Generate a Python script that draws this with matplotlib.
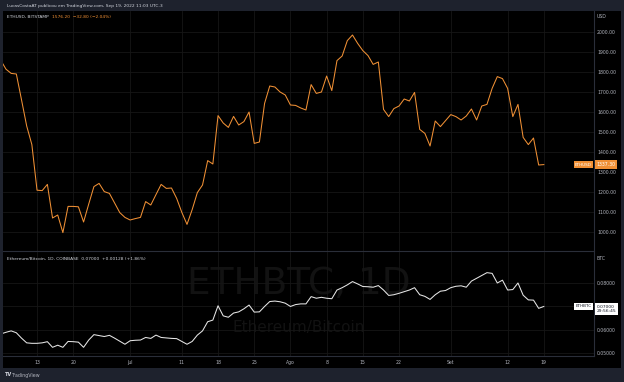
import matplotlib
matplotlib.use('Agg')
import matplotlib.pyplot as plt
import matplotlib.dates as mdates
import numpy as np
import pandas as pd

# daily closes, Jun 6 - Sep 19 2022
dates = pd.date_range('2022-06-06', '2022-09-19', freq='D')

eth_usd = [1858, 1814, 1793, 1790, 1661, 1530, 1437, 1209, 1207, 1238,
           1070, 1085, 997, 1128, 1128, 1126, 1050, 1140, 1227, 1243,
           1202, 1193, 1145, 1097, 1073,
           1060, 1067, 1073, 1152, 1135, 1187, 1238, 1218, 1220, 1168,
           1098, 1038, 1112, 1197, 1235, 1357, 1340, 1582, 1545, 1523,
           1578, 1535, 1552, 1600, 1443, 1450, 1643, 1730, 1725, 1700, 1685,
           1635, 1633, 1620, 1610, 1737, 1693, 1700, 1780, 1707, 1857,
           1880, 1957, 1985, 1943, 1907, 1882, 1838, 1850, 1613, 1577,
           1617, 1630, 1665, 1655, 1698, 1513, 1493, 1430, 1555, 1527, 1557,
           1587, 1577, 1560, 1580, 1615, 1560, 1630, 1638, 1718, 1777,
           1767, 1718, 1577, 1638, 1473, 1437, 1470, 1335, 1337]

eth_btc = [0.0583, 0.0590, 0.0596, 0.0588, 0.0565, 0.0545, 0.0543, 0.0543, 0.0545, 0.0550,
           0.0526, 0.0535, 0.0526, 0.0551, 0.0550, 0.0548, 0.0526, 0.0557, 0.0580, 0.0576,
           0.0572, 0.0577, 0.0565, 0.0552, 0.0539,
           0.0554, 0.0556, 0.0557, 0.0568, 0.0564, 0.0578, 0.0568, 0.0566, 0.0564, 0.0563,
           0.0551, 0.0539, 0.0551, 0.0578, 0.0596, 0.0635, 0.0642, 0.0703, 0.0660, 0.0654,
           0.0672, 0.0677, 0.0690, 0.0706, 0.0676, 0.0677, 0.0700, 0.0721, 0.0723, 0.0720, 0.0714,
           0.0700, 0.0708, 0.0711, 0.0711, 0.0742, 0.0735, 0.0739, 0.0735, 0.0733, 0.0770,
           0.0780, 0.0792, 0.0806, 0.0796, 0.0785, 0.0784, 0.0782, 0.0789, 0.0770, 0.0747,
           0.0750, 0.0756, 0.0763, 0.0770, 0.0780, 0.0750, 0.0743, 0.0730, 0.0750, 0.0765, 0.0768,
           0.0780, 0.0786, 0.0788, 0.0782, 0.0808, 0.0820, 0.0832, 0.0844, 0.0841, 0.0800,
           0.0812, 0.0770, 0.0772, 0.0800, 0.0748, 0.0728, 0.0727, 0.0692, 0.0700]

usd_ticks = [1000, 1100, 1200, 1300, 1400, 1500, 1600, 1700, 1800, 1900, 2000]
btc_ticks = [0.05, 0.06, 0.07, 0.08]
x_tick_dates = ['2022-06-13', '2022-06-20', '2022-07-01', '2022-07-11', '2022-07-18',
                '2022-07-25', '2022-08-01', '2022-08-08', '2022-08-15', '2022-08-22',
                '2022-09-01', '2022-09-12', '2022-09-19']
x_tick_labels = ['13', '20', 'Jul', '11', '18', '25', 'Ago', '8', '15', '22', 'Set', '12', '19']

W, H = 624, 382
FRAME = '#1e222d'
GRID = '#161616'
SEP = '#2a2e39'
TXT = '#b2b5be'
ORANGE = '#f09035'


def rect(x0, y0, x1, y1):
    return [x0 / W, 1 - y1 / H, (x1 - x0) / W, (y1 - y0) / H]


fig = plt.figure(figsize=(W / 100, H / 100), dpi=100, facecolor=FRAME)

# black chart panel behind everything
bg = fig.add_axes(rect(3, 11, 621, 368))
bg.set_facecolor('black')
bg.set_xticks([])
bg.set_yticks([])
for s in bg.spines.values():
    s.set_visible(False)

ax1 = fig.add_axes(rect(3, 11, 594, 251))
ax2 = fig.add_axes(rect(3, 252, 594, 356), sharex=ax1)

x0 = pd.Timestamp('2022-06-13')
xlim = (mdates.date2num(x0 - pd.Timedelta(days=6.58)),
        mdates.date2num(x0 + pd.Timedelta(days=107.7)))

for ax in (ax1, ax2):
    ax.set_facecolor('none')
    ax.yaxis.tick_right()
    ax.tick_params(axis='y', length=0, pad=2.2, labelsize=3.3, labelcolor=TXT)
    ax.tick_params(axis='x', length=0)
    ax.grid(True, color=GRID, lw=0.6)
    ax.set_axisbelow(True)
    for side in ['top', 'left']:
        ax.spines[side].set_visible(False)
    for side in ['right', 'bottom']:
        ax.spines[side].set_color(SEP)
        ax.spines[side].set_linewidth(0.8)
    ax.set_xticks(mdates.date2num(pd.to_datetime(x_tick_dates)))

ax1.set_xlim(*xlim)
ax1.tick_params(axis='x', labelbottom=False)
ax2.set_xticklabels(x_tick_labels)
ax2.tick_params(axis='x', labelsize=3.3, labelcolor=TXT, pad=3.0)

# top pane: ETHUSD
ax1.plot(dates, eth_usd, color=ORANGE, lw=0.75, zorder=3)
ax1.set_ylim(905, 2105)
ax1.set_yticks(usd_ticks)
ax1.set_yticklabels([f'{v:.2f}' for v in usd_ticks])
ax1.text(1.004, 2075, 'USD', transform=ax1.get_yaxis_transform(), fontsize=3.3,
         color=TXT, va='center', ha='left')
ax1.text(1.004, eth_usd[-1], '1337.30', transform=ax1.get_yaxis_transform(),
         fontsize=3.3, color='white', va='center', ha='left', zorder=5,
         bbox=dict(boxstyle='square,pad=0.35', fc=ORANGE, ec='none'))
ax1.text(0.9965, eth_usd[-1], 'ETHUSD', transform=ax1.get_yaxis_transform(),
         fontsize=3.0, color='white', va='center', ha='right', zorder=5,
         bbox=dict(boxstyle='square,pad=0.35', fc=ORANGE, ec='none'))

# bottom pane: ETHBTC
ax2.text(0.5, 0.69, 'ETHBTC, 1D', transform=ax2.transAxes, fontsize=27,
         color='#121212', ha='center', va='center', zorder=0)
ax2.text(0.5, 0.27, 'Ethereum/Bitcoin', transform=ax2.transAxes, fontsize=11,
         color='#121212', ha='center', va='center', zorder=0)
ax2.plot(dates, eth_btc, color='#e6e6e6', lw=0.75, zorder=3)
ax2.set_ylim(0.0489, 0.0932)
ax2.set_yticks(btc_ticks)
# the 0.07000 tick sits under the last-value box, as in the reference
ax2.set_yticklabels([f'{v:.5f}' if v != 0.07 else '' for v in btc_ticks])
ax2.text(1.004, 0.0905, 'BTC', transform=ax2.get_yaxis_transform(), fontsize=3.3,
         color=TXT, va='center', ha='left')
ax2.text(1.004, 0.0708, '0.07000\n29:56:45', transform=ax2.get_yaxis_transform(),
         fontsize=3.2, color='#131722', va='top', ha='left', zorder=5,
         linespacing=1.3,
         bbox=dict(boxstyle='square,pad=0.35', fc='white', ec='none'))
ax2.text(0.9965, eth_btc[-1], 'ETHBTC', transform=ax2.get_yaxis_transform(),
         fontsize=3.0, color='#131722', va='center', ha='right', zorder=5,
         bbox=dict(boxstyle='square,pad=0.35', fc='white', ec='none'))

# header / legends / footer
fig.text(7 / W, 1 - 5.5 / H, 'LucasCostaAT publicou em TradingView.com, Sep 19, 2022 11:03 UTC-3',
         fontsize=3.2, color='#d1d4dc', va='center', ha='left')
fig.text(7 / W, 1 - 16.5 / H, 'ETHUSD, BITSTAMP', fontsize=3.2, color='#d1d4dc',
         va='center', ha='left')
fig.text(52 / W, 1 - 16.5 / H, '1576.20  \u221232.80 (\u22122.04%)', fontsize=3.2,
         color=ORANGE, va='center', ha='left')
fig.text(7 / W, 1 - 258.5 / H,
         'Ethereum/Bitcoin, 1D, COINBASE  0.07000  +0.00128 (+1.86%)',
         fontsize=3.2, color='#d1d4dc', va='center', ha='left')
fig.text(5 / W, 1 - 375 / H, 'TV', fontsize=3.6, color='#d1d4dc', weight='bold',
         va='center', ha='left')
fig.text(12 / W, 1 - 375 / H, 'TradingView', fontsize=3.4, color='#b2b5be',
         va='center', ha='left')

fig.savefig('out.png', dpi=100, facecolor=FRAME)
